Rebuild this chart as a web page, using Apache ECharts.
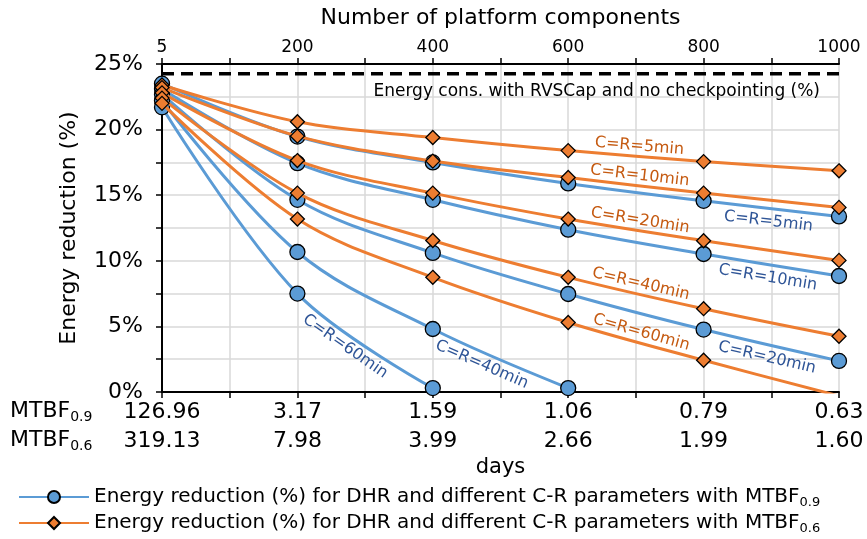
<!DOCTYPE html>
<html><head><meta charset="utf-8">
<script src="https://cdn.jsdelivr.net/npm/echarts@6/dist/echarts.min.js"></script>
<style>html,body{margin:0;padding:0;background:#fff}#c{width:867px;height:539px}</style>
</head><body><div id="c"></div>
<script>
// ---- data ----
const components = ['5','200','400','600','800','1000'];
const mtbf09 = ['126.96','3.17','1.59','1.06','0.79','0.63'];
const mtbf06 = ['319.13','7.98','3.99','2.66','1.99','1.60'];
const crLabels = ['C=R=5min','C=R=10min','C=R=20min','C=R=40min','C=R=60min'];
const blue5  = [23.5,19.47,17.5,15.9,14.57,13.38];
const blue10 = [23.1,17.44,14.65,12.37,10.52,8.84];
const blue20 = [22.7,14.65,10.6,7.47,4.76,2.37];
const blue40 = [22.2,10.67,4.8,0.3];
const blue60 = [21.7,7.5,0.3];
const orange5  = [23.4,20.6,19.4,18.4,17.56,16.86];
const orange10 = [23.2,19.5,17.6,16.35,15.16,14.07];
const orange20 = [22.8,17.64,15.16,13.18,11.53,10.03];
const orange40 = [22.4,15.16,11.55,8.74,6.35,4.25];
const orange60 = [22.0,13.18,8.74,5.3,2.42,-0.3];
const baselineEnergy = 24.25;
const baselineText = 'Energy cons. with RVSCap and no checkpointing (%)';
const legendMain = 'Energy reduction (%) for DHR and different C-R parameters with MTBF';

// ---- style ----
const FONT = '"DejaVu Sans", Verdana, sans-serif';
const BLUE = '#5B9BD5', ORANGE = '#ED7D31', DBLUE = '#2F5597', DORANGE = '#C55A11';
const STEP = 200;
const toPts = arr => arr.map((v, i) => [i * STEP, v]);

function lineSeries(name, arr, color, symbol, size, z) {
  return {
    type: 'line', name, data: toPts(arr), smooth: 0.35,
    symbol, symbolSize: size, z,
    lineStyle: {color, width: 3},
    itemStyle: {color, borderColor: '#000', borderWidth: 1.3},
    emphasis: {disabled: true}, clip: true
  };
}
const B = 'b', O = 'o';
const series = [
  {type:'line', name:'base', data:[[0,baselineEnergy],[1000,baselineEnergy]], symbol:'none',
   lineStyle:{color:'#000', width:3.5, type:[12,7]}, z:1, silent:true},
  lineSeries(B, blue5, BLUE, 'circle', 15, 3),
  lineSeries(B, blue10, BLUE, 'circle', 15, 3),
  lineSeries(B, blue20, BLUE, 'circle', 15, 3),
  lineSeries(B, blue40, BLUE, 'circle', 15, 3),
  lineSeries(B, blue60, BLUE, 'circle', 15, 3),
  lineSeries(O, orange5, ORANGE, 'diamond', 14, 4),
  lineSeries(O, orange10, ORANGE, 'diamond', 14, 4),
  lineSeries(O, orange20, ORANGE, 'diamond', 14, 4),
  lineSeries(O, orange40, ORANGE, 'diamond', 14, 4),
  lineSeries(O, orange60, ORANGE, 'diamond', 14, 4)
];

const gridLine = {show:true, lineStyle:{color:'#d9d9d9', width:1.5}};
const legendBase = {
  orient:'horizontal', left:13, itemWidth:70, itemHeight:15, selectedMode:false,
  formatter: n => '{t|' + legendMain + '}{s|' + (n === B ? '0.9' : '0.6') + '}',
  textStyle:{fontFamily:FONT, color:'#000',
    rich:{t:{fontSize:20, fontFamily:FONT, color:'#000'},
          s:{fontSize:13, fontFamily:FONT, color:'#000', padding:[11,0,0,0]}}}
};
const option = {
  animation: false,
  backgroundColor: '#fff',
  textStyle: {fontFamily: FONT, color:'#000'},
  grid: {left:162, right:28, top:64, bottom:147, outerBoundsMode:'none', containLabel:false},
  xAxis: [{
    type:'value', position:'bottom', min:0, max:1000, interval:100,
    axisLine:{show:true, onZero:false, lineStyle:{color:'#000', width:2}},
    axisTick:{show:true, length:6, lineStyle:{color:'#000', width:1.5}},
    splitLine: gridLine,
    axisLabel:{
      margin:6, interval:0,
      formatter: v => v % STEP === 0 ? '{a|' + mtbf09[v/STEP] + '}\n{a|' + mtbf06[v/STEP] + '}' : '',
      rich:{a:{fontSize:22, lineHeight:29, fontFamily:FONT, color:'#000'}}
    },
    name:'days', nameLocation:'middle', nameGap:62,
    nameTextStyle:{fontSize:21, fontFamily:FONT, color:'#000'}
  },{
    type:'value', position:'top', min:0, max:1000, interval:100,
    axisLine:{show:true, onZero:false, lineStyle:{color:'#000', width:2}},
    axisTick:{show:true, length:6, lineStyle:{color:'#000', width:1.5}},
    splitLine:{show:false},
    axisLabel:{margin:8, fontSize:17, color:'#000', fontFamily:FONT,
      formatter: v => v % STEP === 0 ? components[v/STEP] : ''},
    name:'Number of platform components', nameLocation:'middle', nameGap:35,
    nameTextStyle:{fontSize:22, fontFamily:FONT, color:'#000'}
  }],
  yAxis: {
    type:'value', min:0, max:25, interval:2.5,
    axisLine:{show:true, lineStyle:{color:'#000', width:2}},
    axisTick:{show:true, length:6, lineStyle:{color:'#000', width:1.5}},
    splitLine: gridLine,
    axisLabel:{margin:19, fontSize:22, color:'#000', fontFamily:FONT,
      formatter: v => v % 5 === 0 ? v + '%' : ''},
    name:'Energy reduction (%)', nameLocation:'middle', nameGap:82, nameRotate:90,
    nameTextStyle:{fontSize:22, fontFamily:FONT, color:'#000'}
  },
  legend: [
    Object.assign({data:[B], top:482}, legendBase),
    Object.assign({data:[O], top:508}, legendBase)
  ],
  series
};

const chart = echarts.init(document.getElementById('c'), null, {renderer:'canvas'});
chart.setOption(option);

function place(values, seg, t, d, text, color) {
  const p1 = chart.convertToPixel({xAxisIndex:0, yAxisIndex:0}, [seg*STEP, values[seg]]);
  const p2 = chart.convertToPixel({xAxisIndex:0, yAxisIndex:0}, [(seg+1)*STEP, values[seg+1]]);
  const x = p1[0] + (p2[0]-p1[0])*t, y = p1[1] + (p2[1]-p1[1])*t;
  const ang = Math.atan2(p2[1]-p1[1], p2[0]-p1[0]);
  const nx = -Math.sin(ang), ny = Math.cos(ang);
  return {type:'text', x: x + nx*d, y: y + ny*d, rotation: -ang, z: 100,
    style:{text, fill:color, fontSize:16, fontFamily:FONT, align:'center', verticalAlign:'middle'}};
}
const oArr = [orange5, orange10, orange20, orange40, orange60];
const bArr = [blue5, blue10, blue20];
const graphics = [];
oArr.forEach((a, i) => graphics.push(place(a, 3, 0.52, -10, crLabels[i], DORANGE)));
bArr.forEach((a, i) => graphics.push(place(a, 4, 0.49, 13, crLabels[i], DBLUE)));
graphics.push(place(blue40, 2, 0.40, 13, crLabels[3], DBLUE));
graphics.push(place(blue60, 1, 0.42, 16, crLabels[4], DBLUE));

const bp = chart.convertToPixel({xAxisIndex:0, yAxisIndex:0}, [1000, baselineEnergy]);
graphics.push({type:'text', x: bp[0] - 19, y: bp[1] + 18, z:100,
  style:{text: baselineText, fill:'#000', fontSize:17, fontFamily:FONT, align:'right', verticalAlign:'middle'}});

const mtbfRich = {m:{fontSize:22, fontFamily:FONT, fill:'#000'}, s:{fontSize:14, fontFamily:FONT, fill:'#000', padding:[12,0,0,0]}};
const p0 = chart.convertToPixel({xAxisIndex:0, yAxisIndex:0}, [0, 0]);
graphics.push({type:'text', x:10, y:p0[1]+19, z:100,
  style:{text:'{m|MTBF}{s|0.9}', rich:mtbfRich, align:'left', verticalAlign:'middle'}});
graphics.push({type:'text', x:10, y:p0[1]+48, z:100,
  style:{text:'{m|MTBF}{s|0.6}', rich:mtbfRich, align:'left', verticalAlign:'middle'}});

chart.setOption({graphic: graphics});
</script></body></html>
